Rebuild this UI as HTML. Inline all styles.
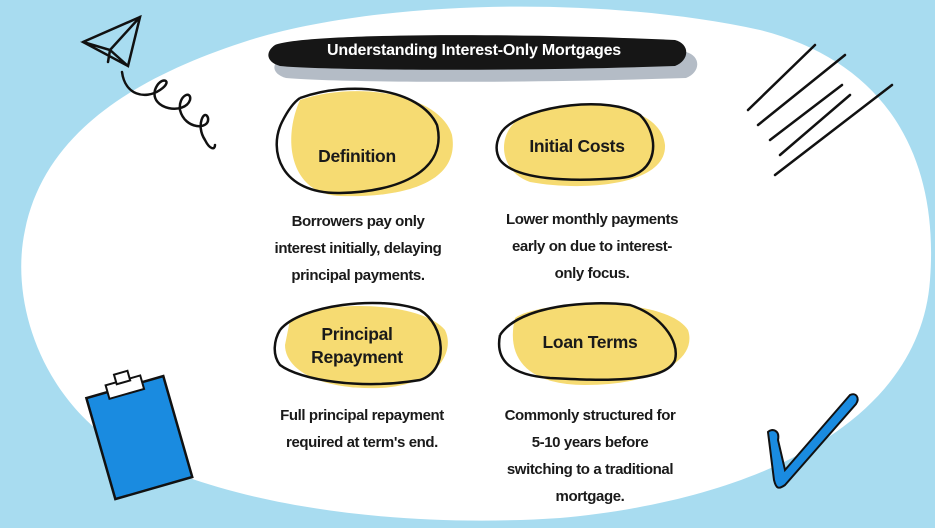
<!DOCTYPE html>
<html><head><meta charset="utf-8"><style>
html,body{margin:0;padding:0;background:#a8dcf0;}
svg{display:block}
.t{font-family:"Liberation Sans",sans-serif;font-weight:bold;fill:#1a1a1a;text-anchor:middle}
.b{font-size:15px;letter-spacing:-0.4px}
.h{font-size:17.5px;letter-spacing:-0.3px}
</style></head><body>
<svg width="935" height="528" viewBox="0 0 935 528" xmlns="http://www.w3.org/2000/svg">
<rect width="935" height="528" fill="#a8dcf0"/>
<path d="M250 40 C380 0 600 -5 760 30 C880 60 940 150 930 280 C920 420 760 500 560 518 C380 530 200 500 110 440 C40 390 10 300 25 230 C45 130 140 75 250 40 Z" fill="#fff"/>
<!-- title -->
<path d="M275 52 C300 40 500 38 680 46 C695 50 695 66 680 72 C500 78 320 76 280 72 C266 68 265 58 275 52 Z" fill="#b4bcc6" transform="translate(6,6)"/>
<path d="M275 45 C300 34 500 32 675 40 C690 44 690 60 675 66 C500 72 320 70 280 66 C266 62 265 52 275 45 Z" fill="#161616"/>
<text x="474" y="55" class="t" style="font-size:16px;fill:#fff;letter-spacing:-0.2px">Understanding Interest-Only Mortgages</text>
<!-- blobs -->
<g fill="#f6db72">
<path d="M300 100 C360 80 440 95 452 135 C460 180 410 198 340 196 C290 194 282 140 300 100Z"/>
<path d="M520 118 C570 95 660 100 665 145 C667 185 585 192 530 182 C500 172 495 135 520 118Z"/>
<path d="M290 320 C320 300 420 300 445 330 C455 350 440 385 380 388 C320 390 285 370 285 345Z"/>
<path d="M515 318 C540 300 665 295 688 330 C698 360 655 385 585 385 C530 385 505 360 515 318Z"/>
</g>
<g fill="none" stroke="#111" stroke-width="2.5">
<path d="M300 98 C350 80 420 88 437 125 C448 170 400 192 340 193 C280 194 268 150 282 122 C288 110 294 102 300 98"/>
<path d="M505 128 C530 105 610 95 640 115 C660 135 660 175 620 178 C570 182 515 180 500 160 C493 148 498 135 505 128"/>
<path d="M280 330 C300 305 380 295 420 310 C445 325 450 370 420 380 C360 390 300 380 280 365 C272 355 274 340 280 330"/>
<path d="M500 335 C520 305 590 300 630 305 C660 315 680 340 675 360 C665 385 590 380 550 378 C510 375 495 360 500 335"/>
</g>
<text x="357" y="162" class="t h">Definition</text>
<text x="577" y="152" class="t h">Initial Costs</text>
<text x="357" y="340" class="t h">Principal</text>
<text x="357" y="363" class="t h">Repayment</text>
<text x="590" y="348" class="t h">Loan Terms</text>
<g class="t b">
<text x="358" y="226">Borrowers pay only</text>
<text x="358" y="253">interest initially, delaying</text>
<text x="358" y="280">principal payments.</text>
<text x="592" y="224">Lower monthly payments</text>
<text x="592" y="251">early on due to interest-</text>
<text x="592" y="278">only focus.</text>
<text x="362" y="420">Full principal repayment</text>
<text x="362" y="447">required at term's end.</text>
<text x="590" y="420">Commonly structured for</text>
<text x="590" y="447">5-10 years before</text>
<text x="590" y="474">switching to a traditional</text>
<text x="590" y="501">mortgage.</text>
</g>
<!-- paper plane -->
<g fill="none" stroke="#111" stroke-width="2.5" stroke-linecap="round">
<path d="M83 42 L140 17 L128 66 Z M83 42 L110 50 L128 66 M110 50 L140 17 M110 50 L108 62"/>
<path d="M122 72 C125 95 145 100 160 90 C175 80 160 75 155 90 C150 110 185 115 190 100 C192 90 178 95 180 110 C185 130 210 130 208 118 C205 108 195 125 205 140 C210 150 215 150 215 145"/>
<path d="M748 110 L815 45 M758 125 L845 55 M770 140 L842 85 M780 155 L850 95 M775 175 L892 85"/>
</g>
<!-- clipboard -->
<g transform="rotate(-16 140 440)">
<rect x="100" y="385" width="80" height="105" fill="#1a8be0" stroke="#111" stroke-width="2.5"/>
<rect x="122" y="378" width="36" height="14" fill="#fff" stroke="#111" stroke-width="2"/>
<rect x="133" y="370" width="14" height="10" fill="#fff" stroke="#111" stroke-width="2"/>
</g>
<!-- check -->
<path d="M768 432 C772 428 780 430 778 440 L785 470 L850 395 C856 392 860 398 856 404 L785 485 C778 490 776 488 774 480 Z" fill="#1a8be0" stroke="#111" stroke-width="2"/>
</svg>
</body></html>
